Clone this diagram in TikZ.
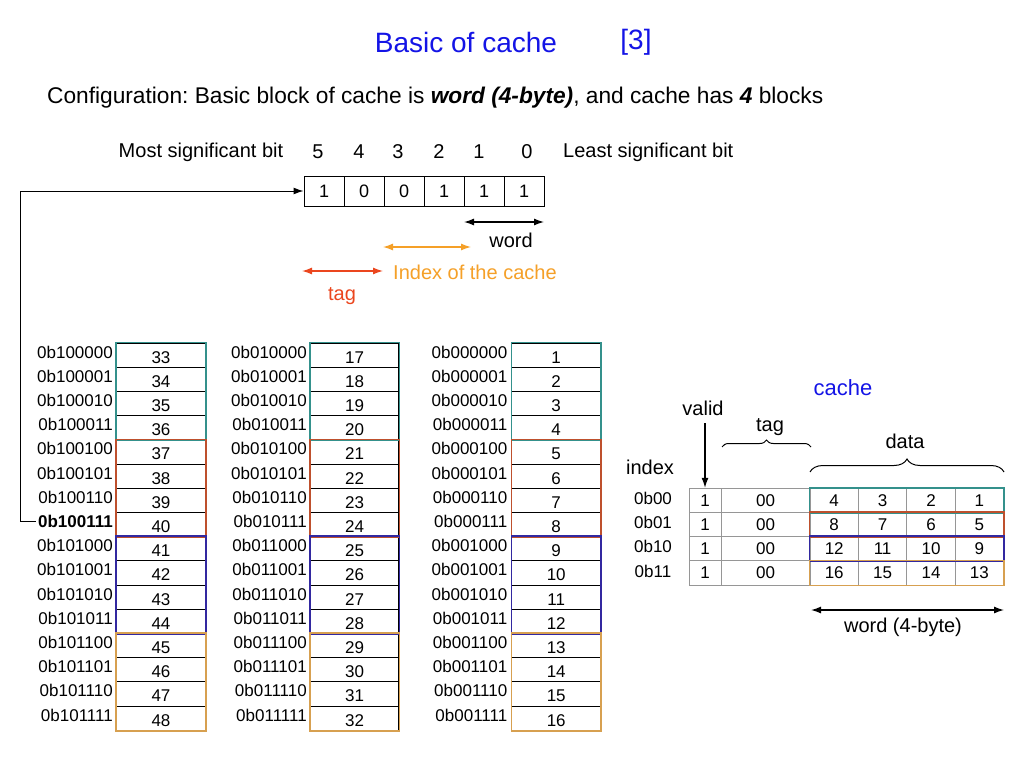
\documentclass[tikz,border=0pt]{standalone}
\usepackage{fontspec}
\setmainfont{Liberation Sans}
\usetikzlibrary{arrows.meta,decorations.pathreplacing}
\definecolor{titleblue}{RGB}{20,20,230}
\definecolor{gteal}{RGB}{52,145,140}
\definecolor{gred}{RGB}{190,80,45}
\definecolor{gblue}{RGB}{50,40,160}
\definecolor{gorange}{RGB}{215,160,80}
\definecolor{txtorange}{RGB}{245,160,40}
\definecolor{txtred}{RGB}{235,70,30}
\definecolor{gridgrey}{RGB}{150,150,150}
\frenchspacing
\begin{document}
\begin{tikzpicture}[x=1pt,y=-1pt,
  txt/.style={inner sep=0pt, font=\fontsize{20}{24}\selectfont},
  lbl/.style={inner sep=0pt, anchor=east, font=\fontsize{17}{20}\selectfont},
  memcell/.style={draw=black, line width=1pt, minimum width=88.6pt, minimum height=24.2pt,
    inner sep=0pt, text height=16pt, text depth=0pt, font=\fontsize{17}{20}\selectfont},
  bitcell/.style={draw=black, line width=1pt, minimum width=40pt, minimum height=30pt,
    inner sep=0pt, font=\fontsize{18}{22}\selectfont},
  cachecell/.style={draw=gridgrey, line width=1pt, minimum height=24.2pt,
    inner sep=0pt, font=\fontsize{17}{20}\selectfont},
  grp/.style={line width=1.6pt},
  dblarrow/.style={{Latex[length=10pt,width=7pt]}-{Latex[length=10pt,width=7pt]}, line width=1.3pt},
  onearrow/.style={-{Latex[length=10pt,width=7pt]}, line width=1.3pt},
  bracestyle/.style={decorate, line width=1pt}
]
\useasboundingbox (0,0) rectangle (1024,768);
\fill[white] (0,0) rectangle (1024,768);

% title
\node[inner sep=0pt, font=\fontsize{28}{32}\selectfont, text=titleblue] (title) at (466,42) {Basic of cache};
\node[inner sep=0pt, font=\fontsize{28}{32}\selectfont, text=titleblue] (ref) at (636,42) {[3]};

% configuration line
\node[inner sep=0pt, anchor=west, font=\fontsize{22.7}{26}\selectfont] (config) at (47,98)
  {Configuration: Basic block of cache is \textbf{\textit{word (4-byte)}}, and cache has \textbf{\textit{4}} blocks};

% bit header
\node[txt] (msb) at (201,152) {Most significant bit};
\node[txt, anchor=west] (lsb) at (563,152) {Least significant bit};
\foreach \d/\x in {5/318,4/359,3/398,2/439,1/479,0/527}
  \node[txt] (h\d) at (\x,152) {\d};
\foreach \d/\x/\v in {5/324/1,4/364/0,3/404/0,2/444/1,1/484/1,0/524/1}
  \node[bitcell] (b\d) at (\x,191) {\v};

% field arrows
\coordinate (wl) at (464,222); \coordinate (wr) at (544,222);
\draw[dblarrow] (wl) -- (wr);
\node[txt] (wordlbl) at (511,240) {word};
\coordinate (il) at (383,247); \coordinate (ir) at (471,247);
\draw[dblarrow, txtorange] (il) -- (ir);
\node[txt, anchor=west, text=txtorange] (idxlbl) at (393,272) {Index of the cache};
\coordinate (tl) at (302,271); \coordinate (tr) at (383,271);
\draw[dblarrow, txtred] (tl) -- (tr);
\node[txt, text=txtred] (taglbl) at (342,296) {tag};

% memory columns
\foreach \b [count=\i from 0] in {0000,0001,0010,0011,0100,0101,0110,0111,1000,1001,1010,1011,1100,1101,1110,1111}{
  \pgfmathsetmacro{\yc}{355.1+24.2*\i}
  \pgfmathsetmacro{\yl}{\yc-3}
  \pgfmathtruncatemacro{\na}{33+\i}
  \pgfmathtruncatemacro{\nb}{17+\i}
  \pgfmathtruncatemacro{\nc}{1+\i}
  \node[memcell] (ma\i) at (161,\yc) {\na};
  \node[memcell] (mb\i) at (354.5,\yc) {\nb};
  \node[memcell] (mc\i) at (556.2,\yc) {\nc};
  \node[lbl] (la\i) at (113,\yl) {\ifnum\i=7 \bfseries\fi 0b10\b};
  \node[lbl] (lb\i) at (307,\yl) {0b01\b};
  \node[lbl] (lc\i) at (507.5,\yl) {0b00\b};
}
\foreach \c in {a,b,c}{
  \draw[grp, gteal] (m\c0.north west) rectangle (m\c3.south east);
  \draw[grp, gred] (m\c4.north west) rectangle (m\c7.south east);
  \draw[grp, gblue] (m\c8.north west) rectangle (m\c11.south east);
  \draw[grp, gorange] (m\c12.north west) rectangle (m\c15.south east);
}

% connector from address to bit box
\coordinate (corner) at (20,191);
\draw[onearrow, line width=1pt] ([xshift=-2pt]la7.west) -| (corner) -- (b5.west);

% cache
\node[inner sep=0pt, font=\fontsize{22}{26}\selectfont, text=titleblue] (cachelbl) at (843,388) {cache};
\node[txt] (validlbl) at (703,408) {valid};
\node[txt] (tagc) at (770,427) {tag};
\node[txt] (datalbl) at (905,441) {data};
\node[txt] (indexlbl) at (650,467) {index};
\foreach \r/\ix/\da/\db/\dc/\dd in {0/00/4/3/2/1, 1/01/8/7/6/5, 2/10/12/11/10/9, 3/11/16/15/14/13}{
  \pgfmathsetmacro{\yc}{500.4+24.2*\r}
  \pgfmathsetmacro{\yl}{\yc-2}
  \node[inner sep=0pt, font=\fontsize{17}{20}\selectfont] (ix\r) at (653,\yl) {0b\ix};
  \node[cachecell, minimum width=32pt] (v\r) at (705,\yc) {1};
  \node[cachecell, minimum width=89pt] (t\r) at (765.5,\yc) {00};
  \node[cachecell, minimum width=48.4pt] (d\r a) at (834.2,\yc) {\da};
  \node[cachecell, minimum width=48.4pt] (d\r b) at (882.6,\yc) {\db};
  \node[cachecell, minimum width=48.4pt] (d\r c) at (931,\yc) {\dc};
  \node[cachecell, minimum width=48.4pt] (d\r d) at (979.4,\yc) {\dd};
}
\draw[grp, gteal] (d0a.north west) rectangle (d0d.south east);
\draw[grp, gred] (d1a.north west) rectangle (d1d.south east);
\draw[grp, gblue] (d2a.north west) rectangle (d2d.south east);
\draw[grp, gorange] (d3a.north west) rectangle (d3d.south east);

\coordinate (vstart) at (705,423);
\draw[onearrow] (vstart) -- (v0.north);
\coordinate (tbl) at (722,447); \coordinate (tbr) at (811,447);
\draw[bracestyle, decoration={brace, amplitude=7pt}] (tbl) -- (tbr);
\coordinate (dbl) at (810,472); \coordinate (dbr) at (1004,472);
\draw[bracestyle, decoration={brace, amplitude=13pt}] (dbl) -- (dbr);
\coordinate (cwl) at (811,610); \coordinate (cwr) at (1004,610);
\draw[dblarrow] (cwl) -- (cwr);
\node[txt] (cwordlbl) at (903,627) {word (4-byte)};
\end{tikzpicture}
\end{document}
